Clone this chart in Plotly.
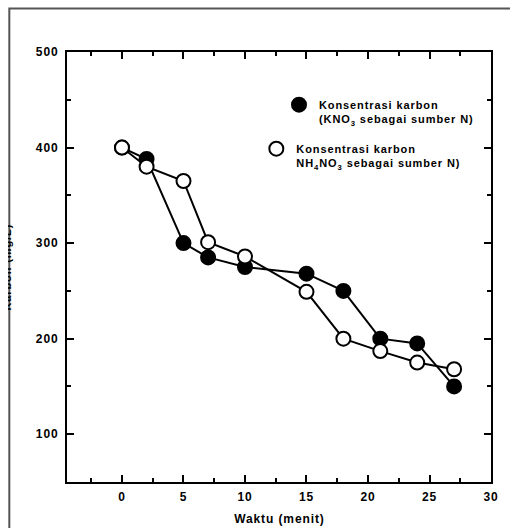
import plotly.graph_objects as go

# Data
waktu = [0, 2, 5, 7, 10, 15, 18, 21, 24, 27]
karbon_kno3 = [400, 388, 300, 285, 275, 268, 250, 200, 195, 150]
karbon_nh4no3 = [400, 380, 365, 301, 286, 249, 200, 187, 175, 168]

x_ticks = [0, 5, 10, 15, 20, 25, 30]
y_ticks = [100, 200, 300, 400, 500]

name_kno3 = "Konsentrasi karbon<br>(KNO<sub>3</sub> sebagai sumber N)"
name_nh4 = "Konsentrasi karbon<br>NH<sub>4</sub>NO<sub>3</sub> sebagai sumber N)"

FONT = "Liberation Sans, Arial, sans-serif"
W, H = 510, 528
ML, MR, MT, MB = 67, 13, 52, 46
PW, PH = W - ML - MR, H - MT - MB


def px_x(px):
    return (px - ML) / PW


def px_y(py):
    return (H - MB - py) / PH


filled = dict(symbol="circle", size=14, color="black", line=dict(color="black", width=2))
hollow = dict(symbol="circle", size=14, color="white", line=dict(color="black", width=2))

fig = go.Figure()
fig.add_trace(go.Scatter(
    x=waktu, y=karbon_kno3, mode="lines+markers", name=name_kno3,
    line=dict(color="black", width=2), marker=filled, showlegend=False,
))
fig.add_trace(go.Scatter(
    x=waktu, y=karbon_nh4no3, mode="lines+markers", name=name_nh4,
    line=dict(color="black", width=2), marker=hollow, showlegend=False,
))
# legend entries (marker only, as in the reference key)
fig.add_trace(go.Scatter(x=[None], y=[None], mode="markers", name=name_kno3,
                         marker=filled, legend="legend"))
fig.add_trace(go.Scatter(x=[None], y=[None], mode="markers", name=name_nh4,
                         marker=hollow, legend="legend2"))

axis_common = dict(
    showline=True, linecolor="black", linewidth=2, mirror="ticks",
    ticks="inside", ticklen=7, tickwidth=1.5, tickcolor="black",
    showgrid=False, zeroline=False,
    tickfont=dict(family=FONT, size=12, color="black", weight="bold"),
)

fig.update_xaxes(
    range=[-4.47, 30], tickvals=x_ticks, ticktext=[str(v) for v in x_ticks],
    ticklabelstandoff=3,
    minor=dict(dtick=2.5, tick0=0, ticks="inside", ticklen=4, tickwidth=1.5, tickcolor="black", showgrid=False),
    **axis_common,
)
fig.update_yaxes(
    range=[50, 500], tickvals=y_ticks, ticktext=[str(v) for v in y_ticks],
    ticklabelstandoff=4,
    minor=dict(dtick=50, tick0=0, ticks="inside", ticklen=4, tickwidth=1.5, tickcolor="black", showgrid=False),
    **axis_common,
)

legend_font = dict(family=FONT, size=11, color="black", weight="bold")
fig.update_layout(
    width=W, height=H,
    margin=dict(l=ML, r=MR, t=MT, b=MB),
    paper_bgcolor="white", plot_bgcolor="white",
    showlegend=True,
    legend=dict(x=px_x(282), y=px_y(91), xanchor="left", yanchor="top",
                bgcolor="rgba(0,0,0,0)", font=legend_font, valign="top",
                itemsizing="trace"),
    legend2=dict(x=px_x(259), y=px_y(135), xanchor="left", yanchor="top",
                 bgcolor="rgba(0,0,0,0)", font=legend_font, valign="top",
                 itemsizing="trace"),
    shapes=[
        dict(type="rect", xref="paper", yref="paper",
             x0=px_x(8.5), x1=px_x(530), y0=px_y(560), y1=px_y(8.5),
             line=dict(color="#555555", width=2), fillcolor="rgba(0,0,0,0)", layer="below"),
    ],
    annotations=[
        dict(text="Waktu (menit)", xref="paper", yref="paper", x=0.5, y=px_y(519),
             xanchor="center", yanchor="middle", showarrow=False,
             font=dict(family=FONT, size=12, color="black", weight="bold")),
        dict(text="Karbon (mg/L)", xref="paper", yref="paper", x=px_x(14), y=0.5,
             xanchor="right", yanchor="middle", textangle=-90, showarrow=False,
             font=dict(family=FONT, size=11, color="black", weight="bold")),
        dict(text=" ", xref="paper", yref="paper", x=px_x(-1), y=0.5,
             xanchor="left", yanchor="middle", showarrow=False,
             width=8, height=200, bgcolor="white", borderpad=0, borderwidth=0),
    ],
)

post = """
var s = document.createElement('style');
s.textContent = 'html, body { margin: 0; padding: 0; overflow: hidden; } '
  + '.main-svg text { letter-spacing: 0.9px; } '
  + '.main-svg .scrollbox, .main-svg .infolayer g { clip-path: none !important; }';
document.head.appendChild(s);
"""
fig.write_html("out.html", post_script=post, config={"displayModeBar": False})
